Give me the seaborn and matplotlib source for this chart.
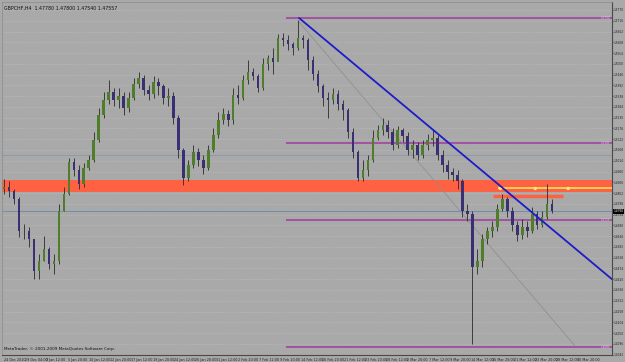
import numpy as np
import pandas as pd
import matplotlib
matplotlib.use("Agg")
import matplotlib.pyplot as plt
import matplotlib.transforms as mtransforms
import seaborn as sns

# --- price data (H4 bars) ---
closes = [1.4880, 1.4860, 1.4820, 1.4660, 1.4660, 1.4620, 1.4460, 1.4510, 1.4570, 1.4495,
          1.4510, 1.4760, 1.4845, 1.5010, 1.4970, 1.4895, 1.4980, 1.5020, 1.5120, 1.5245,
          1.5320, 1.5360, 1.5320, 1.5340, 1.5280, 1.5330, 1.5400, 1.5430, 1.5370, 1.5350,
          1.5410, 1.5390, 1.5330, 1.5340, 1.5230, 1.5070, 1.4930, 1.4995, 1.5060, 1.5020,
          1.4980, 1.5070, 1.5145, 1.5220, 1.5250, 1.5220, 1.5345, 1.5330, 1.5420, 1.5460,
          1.5440, 1.5380, 1.5500, 1.5530, 1.5510, 1.5630, 1.5620, 1.5600, 1.5580, 1.5630,
          1.5620, 1.5520, 1.5450, 1.5390, 1.5330, 1.5320, 1.5350, 1.5300, 1.5270, 1.5160,
          1.5060, 1.4930, 1.4970, 1.5020, 1.5130, 1.5170, 1.5195, 1.5160, 1.5095, 1.5170,
          1.5140, 1.5070, 1.5095, 1.5045, 1.5095, 1.5120, 1.5130, 1.5045, 1.4995, 1.4960,
          1.4945, 1.4910, 1.4760, 1.4745, 1.4480, 1.4510, 1.4620, 1.4660, 1.4680, 1.4770,
          1.4820, 1.4760, 1.4690, 1.4640, 1.4680, 1.4660, 1.4745, 1.4690, 1.4730, 1.4795,
          1.4760]
highs = [1.4920, 1.4910, 1.4870, 1.4830, 1.4695, 1.4680, 1.4620, 1.4545, 1.4635, 1.4580,
         1.4545, 1.4795, 1.4880, 1.5030, 1.5030, 1.4995, 1.5005, 1.5045, 1.5160, 1.5280,
         1.5360, 1.5420, 1.5380, 1.5380, 1.5360, 1.5360, 1.5430, 1.5460, 1.5445, 1.5395,
         1.5440, 1.5430, 1.5400, 1.5380, 1.5360, 1.5245, 1.5080, 1.5020, 1.5095, 1.5080,
         1.5045, 1.5095, 1.5180, 1.5260, 1.5280, 1.5270, 1.5380, 1.5395, 1.5445, 1.5520,
         1.5480, 1.5450, 1.5530, 1.5545, 1.5580, 1.5650, 1.5655, 1.5645, 1.5610, 1.5720,
         1.5645, 1.5630, 1.5540, 1.5470, 1.5400, 1.5360, 1.5380, 1.5370, 1.5320, 1.5280,
         1.5180, 1.5070, 1.5020, 1.5045, 1.5170, 1.5195, 1.5230, 1.5220, 1.5180, 1.5190,
         1.5180, 1.5160, 1.5120, 1.5110, 1.5120, 1.5150, 1.5170, 1.5145, 1.5070, 1.5020,
         1.4980, 1.4970, 1.4920, 1.4795, 1.4760, 1.4570, 1.4645, 1.4680, 1.4710, 1.4795,
         1.4845, 1.4830, 1.4780, 1.4710, 1.4720, 1.4710, 1.4780, 1.4760, 1.4760, 1.4895,
         1.4820]
lows = [1.4845, 1.4830, 1.4795, 1.4630, 1.4620, 1.4580, 1.4420, 1.4420, 1.4510, 1.4470,
        1.4445, 1.4495, 1.4760, 1.4840, 1.4940, 1.4870, 1.4880, 1.4970, 1.5010, 1.5110,
        1.5230, 1.5300, 1.5290, 1.5280, 1.5245, 1.5260, 1.5320, 1.5380, 1.5345, 1.5320,
        1.5330, 1.5345, 1.5300, 1.5290, 1.5200, 1.5030, 1.4890, 1.4910, 1.4980, 1.4990,
        1.4950, 1.4970, 1.5060, 1.5130, 1.5200, 1.5190, 1.5200, 1.5300, 1.5320, 1.5400,
        1.5420, 1.5360, 1.5370, 1.5470, 1.5450, 1.5520, 1.5590, 1.5570, 1.5545, 1.5570,
        1.5580, 1.5470, 1.5420, 1.5360, 1.5290, 1.5230, 1.5300, 1.5270, 1.5220, 1.5130,
        1.5030, 1.4910, 1.4910, 1.4940, 1.5010, 1.5120, 1.5145, 1.5130, 1.5070, 1.5080,
        1.5110, 1.5045, 1.5030, 1.5020, 1.5030, 1.5070, 1.5090, 1.5020, 1.4960, 1.4920,
        1.4910, 1.4870, 1.4730, 1.4710, 1.4095, 1.4445, 1.4480, 1.4595, 1.4630, 1.4660,
        1.4760, 1.4730, 1.4660, 1.4610, 1.4620, 1.4630, 1.4650, 1.4670, 1.4680, 1.4720,
        1.4750]
first_open = 1.4870

date_labels = ["24 Dec 2010", "29 Dec 04:00", "3 Jan 12:00", "5 Jan 20:00", "10 Jan 12:00",
               "12 Jan 20:00", "17 Jan 12:00", "19 Jan 20:00", "24 Jan 12:00", "26 Jan 20:00",
               "31 Jan 12:00", "2 Feb 20:00", "7 Feb 12:00", "9 Feb 20:00", "14 Feb 12:00",
               "16 Feb 20:00", "21 Feb 12:00", "23 Feb 20:00", "28 Feb 12:00", "2 Mar 20:00",
               "7 Mar 12:00", "9 Mar 20:00", "14 Mar 12:00", "16 Mar 20:00", "21 Mar 12:00",
               "23 Mar 20:00", "28 Mar 12:00", "30 Mar 20:00"]

# --- drawn objects ---
band_low, band_high = 1.4855, 1.4915          # red support/resistance zone
level_prices = [1.5730, 1.5105, 1.4715, 1.4080]  # purple horizontal lines
level_start = 56.6
blue_levels = [1.5045, 1.4760]
yellow_price, yellow_start = 1.4875, 99.2
yellow_dots_x = [99.6, 106.6, 113.2]
short_red_price, short_red_x = 1.4835, [98.2, 112.2]
trend_x, trend_y = [59.2, 122.0], [1.5730, 1.4420]
fan_x, fan_y = [59.2, 114.6], [1.5710, 1.4085]
current_price = 1.4760

BG = "#a9a9a9"
sns.set_theme(style="white")
plt.rcParams['font.family'] = ['DejaVu Sans']

df = pd.DataFrame({"close": closes, "high": highs, "low": lows})
df["open"] = [first_open] + closes[:-1]
df["idx"] = np.arange(len(df))
df["up"] = df["close"] >= df["open"]

fig = plt.figure(figsize=(6.25, 3.62), dpi=100, facecolor=BG)
ax = fig.add_axes([2 / 625, 7 / 362, 610 / 625, 353 / 362])
ax.set_facecolor(BG)

ax.set_xlim(-0.4, 122)
ax.set_ylim(1.4040, 1.5810)

# price grid
yt = np.arange(1.5770, 1.4040, -0.0054)
ax.set_yticks(yt)
ax.set_yticklabels([f"{v:.4f}" for v in yt])
ax.yaxis.tick_right()
ax.yaxis.grid(True, linestyle=(0, (1, 2)), color="#c4c4c4", lw=0.5)
ax.xaxis.grid(False)

# zone and lines
ax.axhspan(band_low, band_high, color="#ff6243", lw=0, zorder=1)
for p in level_prices:
    ax.hlines(p, level_start, 122, color="#a045a0", lw=1.2, zorder=2)
    ax.text(121.6, p, f"{p:.4f}", fontsize=2.0, color="#f0c0f0", ha="right", va="center", zorder=6)
ax.axhline(blue_levels[0], color="#7f95aa", lw=0.5, zorder=1.5)
ax.axhline(blue_levels[1], color="#6f8fae", lw=0.7, zorder=1.5)
ax.hlines(yellow_price, yellow_start, 122, color="#f2e35a", lw=1.2, zorder=2)
sns.scatterplot(x=yellow_dots_x, y=[yellow_price] * len(yellow_dots_x), ax=ax,
                color="#f8ef70", s=6, edgecolor="none", zorder=3)
ax.hlines(short_red_price, short_red_x[0], short_red_x[1], color="#ff6243", lw=2.5, zorder=2)
sns.lineplot(x=fan_x, y=fan_y, ax=ax, color="#8c8c8c", lw=0.5, zorder=2)
sns.lineplot(x=trend_x, y=trend_y, ax=ax, color="#1c1cc8", lw=1.3, zorder=5)

# candles
ax.vlines(df["idx"], df["low"], df["high"], color="#2a2a2a", lw=0.6, zorder=3)
colors = np.where(df["up"], "#4f7e2b", "#3a2f72")
ax.bar(df["idx"], df["close"] - df["open"], bottom=df["open"], width=0.5,
       color=colors, lw=0, zorder=4)

# axes styling
ax.set_xticks(np.arange(len(date_labels)) * 4.26)
ax.set_xticklabels(date_labels)
for lbl in ax.get_xticklabels():
    lbl.set_ha("left")
ax.tick_params(axis="x", labelsize=2.4, length=2, pad=0.4, colors="#202020", width=0.5)
ax.tick_params(axis="y", labelsize=2.1, length=1, pad=0.3, colors="#202020", width=0.5)
for s in ["right", "bottom"]:
    ax.spines[s].set_color("#4a4a4a")
    ax.spines[s].set_linewidth(0.8)
for s in ["left", "top"]:
    ax.spines[s].set_color("#8a8a8a")
    ax.spines[s].set_linewidth(0.5)
ax.set_xlabel("")
ax.set_ylabel("")

tr = mtransforms.blended_transform_factory(ax.transAxes, ax.transData)
ax.text(1.002, current_price, f"{current_price:.4f}", transform=tr, fontsize=2.1,
        color="white", va="center", ha="left", clip_on=False, zorder=7,
        bbox=dict(boxstyle="square,pad=0.1", fc="black", ec="none"))

fig.text(4 / 625, 1 - 8 / 362, "GBPCHF,H4  1.47780 1.47800 1.47540 1.47557",
         fontsize=3.4, color="#111111", va="center")
ax.text(0.004, 0.012, "MetaTrader, \u00a9 2001-2009 MetaQuotes Software Corp.",
        transform=ax.transAxes, fontsize=3.0, color="#111111", va="bottom")

fig.savefig("out.png", dpi=100, facecolor=BG)
